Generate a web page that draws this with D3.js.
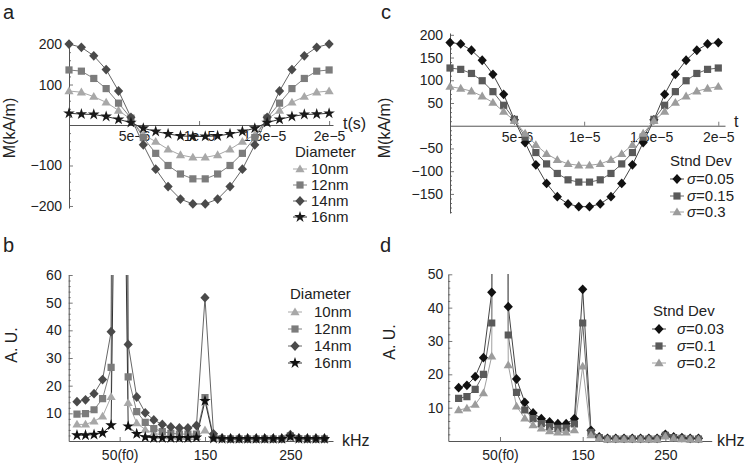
<!DOCTYPE html>
<html><head><meta charset="utf-8">
<script src="https://cdn.jsdelivr.net/npm/d3@7"></script>
<style>
body{margin:0;background:#fff}
svg{display:block;font-family:"Liberation Sans",Arial,Helvetica,sans-serif}
</style></head><body><svg id="c" width="750" height="468"></svg>
<script>
// ---------- DATA ----------
// panel a: time samples (microseconds)
const timeA = [0,0.952,1.905,2.857,3.810,4.762,5.714,6.667,7.619,8.571,9.524,10.476,11.429,12.381,13.333,14.286,15.238,16.190,17.143,18.095,19.048,20.000];
const diam10 = [84,81,70,56,36,14,-24,-41,-60,-74,-80,-80,-74,-60,-41,-24,14,36,56,70,81,84];
const diam12 = [136,133,115,90,54,17,-31,-70,-100,-121,-133,-133,-121,-100,-70,-31,17,54,90,115,133,136];
const diam14 = [200,192,171,137,84,19,-49,-109,-152,-183,-195,-195,-183,-152,-109,-49,19,84,137,171,192,200];
const diam16 = [29,27,26,21,14,6,-8,-16,-22,-27,-28,-28,-27,-22,-16,-8,6,14,21,26,27,29];
// panel c: time samples (microseconds)
const timeC = [0,0.8,1.6,2.4,3.2,4.0,4.8,5.6,6.4,7.2,8.0,8.8,9.6,10.4,11.2,12.0,12.8,13.6,14.4,15.2,16.0,16.8,17.6,18.4,19.2,20.0];
const sd005 = [183,180,166,144,113,69,13,-37,-86,-127,-156,-172,-178,-178,-172,-156,-127,-86,-37,13,69,113,144,166,180,183];
const sd015 = [127,124,115,99,75,45,14,-25,-59,-84,-105,-119,-124,-124,-119,-105,-84,-59,-25,14,45,75,99,115,124,127];
const sd030 = [86,82,76,65,51,31,11,-17,-42,-62,-75,-84,-87,-87,-84,-75,-62,-42,-17,11,31,51,65,76,82,86];
// panels b, d: frequency (kHz)
const freq = [0,10,20,30,40,50,60,70,80,90,100,110,120,130,140,150,160,170,180,190,200,210,220,230,240,250,260,270,280,290];
const specD10 = [6.0,6.0,7.1,8.9,16.0,400,13.8,6.5,4.1,2.9,2.1,1.7,1.5,1.5,1.5,3.9,1.0,0.7,0.6,0.6,0.6,0.6,0.6,0.6,0.6,1.3,0.7,0.6,0.6,0.6];
const specD12 = [9.7,9.9,11.3,15.3,26.6,600,23.2,10.6,6.7,4.5,3.4,2.8,2.5,2.5,2.5,15.7,1.6,0.9,0.8,0.8,0.8,0.8,0.8,0.8,0.8,1.9,0.9,0.8,0.8,0.8];
const specD14 = [14.2,14.9,17.1,22.2,39.5,900,34.9,15.9,10.2,7.6,6.0,5.1,4.7,4.7,5.6,51.8,2.6,1.0,0.9,0.9,0.9,0.9,0.9,0.9,0.9,2.3,1.0,0.9,0.9,0.9];
const specD16 = [2.1,2.1,2.3,2.9,5.7,250,5.3,2.6,1.4,1.1,1.1,1.1,1.1,1.1,1.3,14.5,0.9,0.8,0.8,0.8,0.8,0.8,0.8,0.8,0.8,1.6,0.8,0.8,0.8,0.8];
const specS003 = [16.0,16.7,19.3,25.0,44.6,900,40.3,18.6,11.6,8.4,6.7,5.7,5.2,5.2,6.7,45.5,3.2,1.2,0.8,0.8,0.8,0.8,0.8,0.8,0.8,2.0,1.2,1.0,0.8,0.8];
const specS01 = [12.8,13.3,15.5,20.0,35.4,700,31.8,14.6,9.3,6.7,5.2,4.3,3.8,3.9,5.1,35.4,2.6,1.0,0.6,0.6,0.6,0.6,0.6,0.6,0.6,1.7,1.0,0.8,0.6,0.6];
const specS02 = [9.3,9.8,10.9,14.4,25.4,500,22.8,10.4,6.8,4.8,3.8,3.0,2.6,2.6,3.3,22.4,1.8,0.8,0.5,0.5,0.5,0.5,0.5,0.5,0.5,1.4,0.8,0.6,0.5,0.5];
// labels
const diamNames = ["10nm","12nm","14nm","16nm"];
const sdNamesC = ["0.05","0.15","0.3"];
const sdNamesD = ["0.03","0.1","0.2"];
const timeTicks = [5,10,15,20];
const timeTickLabels = ["5e\u22126","1e\u22125","1.5e\u22125","2e\u22125"];
const yTicksA = [-200,-100,100,200];
const yTicksC = [-150,-100,-50,50,100,150,200];
const freqTicks = [50,150,250];
const freqTickLabels = ["50(f0)","150","250"];
const yTicksB = [10,20,30,40,50,60];
const yTicksD = [10,20,30,40,50];

// ---------- DRAWING ----------
const svg = d3.select("#c");
const AX = "#555";
const fmtMinus = d => (d < 0 ? "\u2212" + Math.abs(d) : String(d));

function markerPath(type) {
  switch (type) {
    case "tri": return "M0,-4.6L4.6,3.2L-4.6,3.2Z";
    case "sq": return "M-3.6,-3.6H3.6V3.6H-3.6Z";
    case "dia": return "M0,-4.9L4.6,0L0,4.9L-4.6,0Z";
    case "star": return d3.symbol(d3.symbolStar, 42)();
  }
}

let clipId = 0;
function panel(cfg) {
  const g = svg.append("g");
  const x = d3.scaleLinear().domain(cfg.xDomain).range(cfg.xRange);
  const y = d3.scaleLinear().domain(cfg.yDomain).range(cfg.yRange);
  const y0 = y(0);
  const axY = cfg.axisAtZeroX ? x(0) : cfg.xRange[0];

  const gx = g.append("g").attr("transform", `translate(0,${y0})`)
    .call(d3.axisBottom(x).tickValues(cfg.xTicks).tickFormat((d, i) => cfg.xTickLabels[i])
      .tickSizeInner(-4).tickSizeOuter(0).tickPadding(cfg.xPad));
  const gy = g.append("g").attr("transform", `translate(${axY},0)`)
    .call(d3.axisLeft(y).tickValues(cfg.yTicks).tickFormat(fmtMinus)
      .tickSizeInner(-4).tickSizeOuter(0).tickPadding(cfg.yPad));
  const gym = g.append("g").attr("transform", `translate(${axY},0)`)
    .call(d3.axisLeft(y).tickValues(cfg.yMinor).tickFormat("").tickSizeInner(-2).tickSizeOuter(0));
  gym.select(".domain").remove();
  [gx, gy, gym].forEach(a => {
    a.attr("font-family", null).attr("font-size", null);
    a.selectAll(".domain").attr("stroke", AX).attr("stroke-width", 1);
    a.selectAll(".tick line").attr("stroke", AX).attr("stroke-width", 0.8);
    a.selectAll(".tick text").attr("fill", "#222").style("font-size", "14px");
  });

  g.append("text").attr("transform", `translate(${cfg.yTitle[0]},${cfg.yTitle[1]}) rotate(-90)`)
    .attr("text-anchor", "middle").style("font-size", "16px").attr("fill", "#222").text(cfg.yTitle[2]);
  g.append("text").attr("x", cfg.xTitle[0]).attr("y", cfg.xTitle[1])
    .style("font-size", "16px").attr("fill", "#222").text(cfg.xTitle[2]);
  g.append("text").attr("x", cfg.letter[0]).attr("y", cfg.letter[1])
    .style("font-size", "20px").attr("fill", "#222").text(cfg.letter[2]);

  const id = "clip" + (clipId++);
  g.append("clipPath").attr("id", id).append("rect")
    .attr("x", cfg.xRange[0] - 10).attr("y", cfg.clipTop)
    .attr("width", cfg.xRange[1] - cfg.xRange[0] + 20).attr("height", 468 - cfg.clipTop);
  const plot = g.append("g").attr("clip-path", `url(#${id})`);

  const line = d3.line().x((d, i) => x(cfg.xs[i])).y(d => y(d));
  cfg.series.forEach(s => {
    plot.append("path").attr("d", line(s.values)).attr("fill", "none")
      .attr("stroke", s.line).attr("stroke-width", 1);
  });
  cfg.series.forEach(s => {
    plot.selectAll(null).data(s.values).join("path")
      .attr("transform", (d, i) => `translate(${x(cfg.xs[i])},${y(d)})`)
      .attr("d", markerPath(s.marker)).attr("fill", s.color);
  });

  const L = cfg.legend;
  g.append("text").attr("x", L.titleX).attr("y", L.titleY).style("font-size", "15px")
    .attr("fill", "#222").text(L.title);
  cfg.series.forEach((s, i) => {
    const cy = L.rows[i];
    g.append("line").attr("x1", L.mx - 7).attr("x2", L.mx + 7).attr("y1", cy).attr("y2", cy)
      .attr("stroke", s.line).attr("stroke-width", 1);
    g.append("path").attr("transform", `translate(${L.mx},${cy})`).attr("d", markerPath(s.marker)).attr("fill", s.color);
    const t = g.append("text").attr("x", L.tx).attr("y", cy + 5).style("font-size", "15px").attr("fill", "#222");
    if (L.sigma) {
      t.append("tspan").style("font-style", "italic").text("\u03c3");
      t.append("tspan").text("=" + s.name);
    } else t.text(s.name);
  });
}

panel({
  xs: timeA, xDomain: [0, 20.3], xRange: [69, 333], yDomain: [-205, 210], yRange: [208, 40],
  xTicks: timeTicks, xTickLabels: timeTickLabels, xPad: 6, axisAtZeroX: true,
  yTicks: yTicksA, yMinor: d3.range(-200, 201, 20).filter(v => v % 100 !== 0), yPad: 7,
  yTitle: [15, 128, "M(kA/m)"], xTitle: [343, 129, "t(s)"], letter: [3, 19, "a"], clipTop: 0,
  series: [
    {name: diamNames[0], values: diam10, marker: "tri", color: "#a8a8a8", line: "#a8a8a8"},
    {name: diamNames[1], values: diam12, marker: "sq", color: "#7c7c7c", line: "#808080"},
    {name: diamNames[2], values: diam14, marker: "dia", color: "#4a4a4a", line: "#666"},
    {name: diamNames[3], values: diam16, marker: "star", color: "#1a1a1a", line: "#333"}
  ],
  legend: {title: "Diameter", titleX: 295, titleY: 157, rows: [169, 185, 201, 217], mx: 300, tx: 311}
});

panel({
  xs: timeC, xDomain: [0, 20.5], xRange: [450, 725], yDomain: [-192, 204], yRange: [213, 33],
  xTicks: timeTicks, xTickLabels: timeTickLabels, xPad: 6, axisAtZeroX: true,
  yTicks: yTicksC, yMinor: d3.range(-190, 201, 10).filter(v => v % 50 !== 0), yPad: 7,
  yTitle: [390, 128, "M(kA/m)"], xTitle: [734, 127, "t"], letter: [381, 19, "c"], clipTop: 0,
  series: [
    {name: sdNamesC[0], values: sd005, marker: "dia", color: "#111", line: "#444"},
    {name: sdNamesC[1], values: sd015, marker: "sq", color: "#5a5a5a", line: "#666"},
    {name: sdNamesC[2], values: sd030, marker: "tri", color: "#9c9c9c", line: "#a0a0a0"}
  ],
  legend: {title: "Stnd Dev", titleX: 670, titleY: 166, rows: [179, 196, 212], mx: 677, tx: 687, sigma: true}
});

panel({
  xs: freq, xDomain: [-9.7, 300], xRange: [68.7, 333], yDomain: [0, 60], yRange: [441, 275],
  xTicks: freqTicks, xTickLabels: freqTickLabels, xPad: 9, axisAtZeroX: false,
  yTicks: yTicksB, yMinor: d3.range(2, 60, 2).filter(v => v % 10 !== 0), yPad: 7,
  yTitle: [17, 345, "A. U."], xTitle: [342, 446, "kHz"], letter: [3, 252, "b"], clipTop: 275,
  series: [
    {name: diamNames[0], values: specD10, marker: "tri", color: "#a8a8a8", line: "#a8a8a8"},
    {name: diamNames[1], values: specD12, marker: "sq", color: "#7c7c7c", line: "#808080"},
    {name: diamNames[2], values: specD14, marker: "dia", color: "#4a4a4a", line: "#666"},
    {name: diamNames[3], values: specD16, marker: "star", color: "#111", line: "#333"}
  ],
  legend: {title: "Diameter", titleX: 290, titleY: 299, rows: [312, 329, 346, 363], mx: 295, tx: 314}
});

panel({
  xs: freq, xDomain: [-12.5, 306], xRange: [448.3, 711.7], yDomain: [0, 50], yRange: [441, 274.3],
  xTicks: freqTicks, xTickLabels: freqTickLabels, xPad: 9, axisAtZeroX: false,
  yTicks: yTicksD, yMinor: d3.range(2, 50, 2).filter(v => v % 10 !== 0), yPad: 5,
  yTitle: [395, 342, "A. U."], xTitle: [717, 446, "kHz"], letter: [380, 252, "d"], clipTop: 274,
  series: [
    {name: sdNamesD[0], values: specS003, marker: "dia", color: "#111", line: "#444"},
    {name: sdNamesD[1], values: specS01, marker: "sq", color: "#5a5a5a", line: "#666"},
    {name: sdNamesD[2], values: specS02, marker: "tri", color: "#9c9c9c", line: "#a0a0a0"}
  ],
  legend: {title: "Stnd Dev", titleX: 653, titleY: 316, rows: [329, 346, 363], mx: 659, tx: 677, sigma: true}
});
</script></body></html>
